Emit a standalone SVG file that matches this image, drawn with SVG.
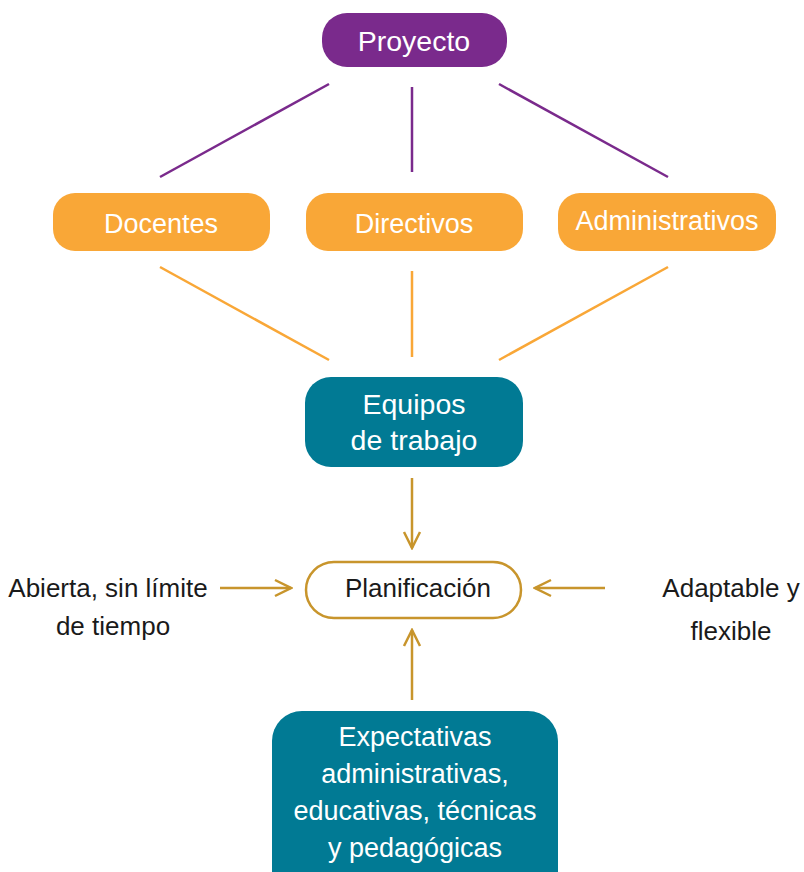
<svg xmlns="http://www.w3.org/2000/svg" width="804" height="872" viewBox="0 0 804 872">
<defs>
<style>
text{font-family:"Liberation Sans",Arial,sans-serif;text-anchor:middle}
.w{fill:#fff;font-size:27px}
.m{fill:#fff;font-size:28.5px}
.b{fill:#1a1a1a;font-size:26px}
.pl{stroke:#7a2a8c;stroke-width:2.5;fill:none}
.ol{stroke:#f9a737;stroke-width:2.5;fill:none}
.gl{stroke:#c8952c;stroke-width:2.5;fill:none}
.org{fill:#f9a737}
.teal{fill:#017a94}
</style>
<marker id="ah" viewBox="0 0 20 20" refX="18" refY="10" markerWidth="20" markerHeight="20" markerUnits="userSpaceOnUse" orient="auto">
<path d="M2,2 L18,10 L2,18" fill="none" stroke="#c8952c" stroke-width="2.5"/>
</marker>
</defs>
<rect width="804" height="872" fill="#fff"/>
<g id="connectors">
<line class="pl" x1="329" y1="84" x2="160" y2="177"/>
<line class="pl" x1="412" y1="87" x2="412" y2="172"/>
<line class="pl" x1="499" y1="84" x2="668" y2="177"/>
<line class="ol" x1="160" y1="267" x2="329" y2="360"/>
<line class="ol" x1="412" y1="271" x2="412" y2="357"/>
<line class="ol" x1="668" y1="267" x2="499" y2="360"/>
<line class="gl" x1="412" y1="478" x2="412" y2="548" marker-end="url(#ah)"/>
<line class="gl" x1="220" y1="588" x2="291" y2="588" marker-end="url(#ah)"/>
<line class="gl" x1="605" y1="588" x2="535" y2="588" marker-end="url(#ah)"/>
<line class="gl" x1="412" y1="700" x2="412" y2="630" marker-end="url(#ah)"/>
</g>
<g id="proyecto">
<rect x="322" y="13" width="185" height="54" rx="25" fill="#7a2a8c"/>
<text class="m" x="414" y="51">Proyecto</text>
</g>
<g id="docentes">
<rect class="org" x="53" y="193" width="217" height="58" rx="22"/>
<text class="w" x="161" y="233">Docentes</text>
</g>
<g id="directivos">
<rect class="org" x="306" y="193" width="217" height="58" rx="22"/>
<text class="w" x="414" y="233">Directivos</text>
</g>
<g id="administrativos">
<rect class="org" x="558" y="193" width="218" height="58" rx="22"/>
<text class="w" x="667" y="230">Administrativos</text>
</g>
<g id="equipos">
<rect class="teal" x="305" y="377" width="218" height="90" rx="26"/>
<text class="m" x="414" y="414">Equipos</text>
<text class="m" x="414" y="450">de trabajo</text>
</g>
<g id="planificacion">
<rect x="306" y="562" width="215" height="56" rx="28" fill="#fff" stroke="#c8952c" stroke-width="2.5"/>
<text class="b" x="418" y="597">Planificación</text>
</g>
<g id="abierta">
<text class="b" x="108" y="597">Abierta, sin límite</text>
<text class="b" x="113" y="635">de tiempo</text>
</g>
<g id="adaptable">
<text class="b" x="731" y="597">Adaptable y</text>
<text class="b" x="731" y="640">flexible</text>
</g>
<g id="expectativas">
<rect class="teal" x="272" y="711" width="286" height="190" rx="30"/>
<text class="w" x="415" y="746">Expectativas</text>
<text class="w" x="415" y="783">administrativas,</text>
<text class="w" x="415" y="820">educativas, técnicas</text>
<text class="w" x="415" y="857">y pedagógicas</text>
</g>
</svg>
